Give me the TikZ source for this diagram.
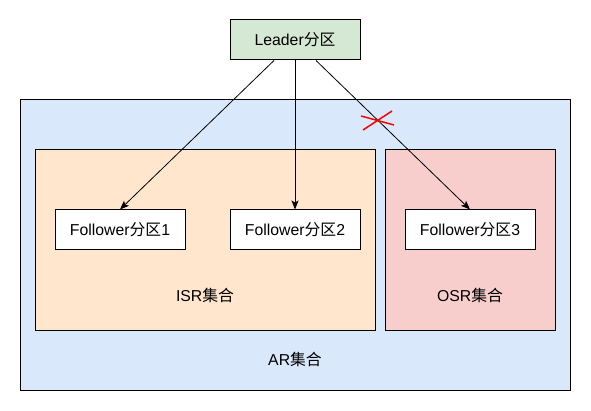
\documentclass[tikz,border=0pt]{standalone}
\usepackage{fontspec}
\setmainfont{Liberation Sans}
\newfontfamily\cjk{Noto Sans CJK SC}
\usetikzlibrary{arrows.meta}
\newcommand{\zh}[1]{{\cjk #1}}

\begin{document}
\begin{tikzpicture}[x=1pt,y=-1pt,
  partbox/.style={draw, line width=1pt, fill=white, minimum width=130pt, minimum height=40pt, inner sep=0pt},
  setbox/.style={draw, line width=1pt, inner sep=0pt},
  every node/.style={font=\fontsize{15.8}{19}\selectfont},
  >={Stealth[length=9pt,width=7pt,inset=2pt]}]
% Define colors
\definecolor{colorar}{HTML}{DAE8FC}
\definecolor{colorisr}{HTML}{FFE6CC}
\definecolor{colorosr}{HTML}{F8CECC}
\definecolor{colorleader}{HTML}{D5E8D4}
\definecolor{colorcross}{HTML}{FF0000}
\useasboundingbox (0,0) rectangle (591,411);
  %%%%%%%%%%The sets
  \node[setbox, fill=colorar, minimum width=550pt, minimum height=290pt] (AR) at (295,245) {};
  \node[setbox, fill=colorisr, minimum width=340pt, minimum height=180pt] (ISR) at (205,240) {};
  \node[setbox, fill=colorosr, minimum width=170pt, minimum height=180pt] (OSR) at (470,240) {};
  %Marks
  \node (ARlabel) at (295,359) {AR\zh{集合}};
  \node (ISRlabel) at (205,295) {ISR\zh{集合}};
  \node (OSRlabel) at (470,295) {OSR\zh{集合}};
  % Define nodes
  \node[partbox, fill=colorleader] (L) at (295,40) {Leader\zh{分区}};
  \node[partbox] (F1) at (120,230) {Follower\zh{分区}1};
  \node[partbox] (F2) at (295,230) {Follower\zh{分区}2};
  \node[partbox] (F3) at (470,230) {Follower\zh{分区}3};
  % Draw arrows
  \draw[->, line width=0.8pt] ([xshift=-21pt]L.south) -- (F1.north);
  \draw[->, line width=0.8pt] (L.south) -- (F2.north);
  \draw[->, line width=0.8pt] ([xshift=21pt]L.south) -- (F3.north);
  %The cross
  \coordinate (X1) at (361,116);
  \coordinate (X2) at (394,125);
  \coordinate (X3) at (363,130);
  \coordinate (X4) at (392,111);
  \draw[line width=1.5pt, color=colorcross] (X1) -- (X2);
  \draw[line width=1.5pt, color=colorcross] (X3) -- (X4);
\end{tikzpicture}
\end{document}
